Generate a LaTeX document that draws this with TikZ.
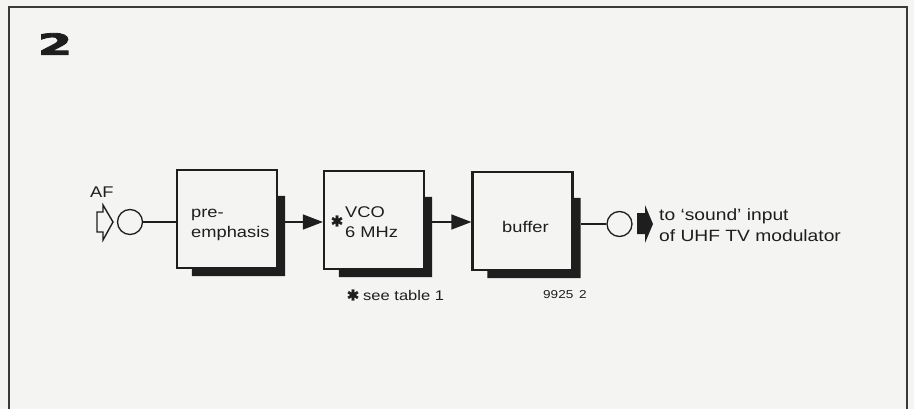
\documentclass[tikz,border=0pt]{standalone}
\usepackage{fontspec}
\setmainfont{Liberation Sans}[FakeStretch=1.18]
\newfontfamily\symfont{DejaVu Sans}[FakeBold=1.5]
\newfontfamily\numfont{DejaVu Sans Bold}[FakeBold=3]
\usetikzlibrary{arrows.meta,calc}
\definecolor{ink}{HTML}{1E1E1E}
\definecolor{paper}{HTML}{F4F4F2}
\definecolor{framec}{HTML}{3A3A3A}
\newcommand\dropshadow[1]{%
  \fill[ink] ($(#1.north east)+(0,27)$) -- ++(7,0) -- ($(#1.south east)+(7,7)$)
    -- ($(#1.south west)+(16,7)$) -- ($(#1.south west)+(16,0)$) -- (#1.south east) -- cycle;}
\begin{document}
\begin{tikzpicture}[x=1pt,y=-1pt,
  blk/.style={draw=ink, line width=2.2pt, minimum width=100pt, minimum height=98pt, inner sep=0pt},
  wire/.style={draw=ink, line width=1.3pt},
  arr/.style={wire, -{Triangle[length=20pt,width=15pt]}},
  port/.style={circle, draw=ink, line width=1.3pt, minimum size=25pt, inner sep=0pt},
  lbl/.style={text=ink, font=\fontsize{15.5}{20}\selectfont, inner sep=0pt},
  small/.style={text=ink, font=\fontsize{11.5}{14}\selectfont, inner sep=0pt},
  star/.style={text=ink, font=\symfont\fontsize{15}{16}\selectfont, inner sep=0pt}
]
% paper and frame
\fill[paper] (0,0) rectangle (914,409);
\draw[framec, line width=2pt] (9,409) -- (9,7) -- (907,7) -- (907,409);

% figure number
\node[text=ink, inner sep=0pt, font=\numfont\fontsize{29}{30}\selectfont] (fig) at (55,44) {\scalebox{1.7}[1]{2}};

% blocks
\node[blk] (pre) at (227,219) {};
\node[blk] (vco) at (374,220) {};
\node[blk] (buf) at (522.5,221) {};
\dropshadow{pre}
\dropshadow{vco}
\dropshadow{buf}

% block texts
\node[lbl, anchor=base west] (preA) at (191,217) {pre-};
\node[lbl, anchor=base west] (preB) at (191,237) {emphasis};
\node[lbl, anchor=base west] (vcoA) at (345,217) {VCO};
\node[lbl, anchor=base west] (vcoB) at (345,237) {6 MHz};
\node[star] (vcostar) at (337,221) {✱};
\node[lbl, anchor=base west] (bufT) at (502,232) {buffer};

% ports
\node[port] (in) at (130,222) {};
\node[port] (out) at (619.5,224) {};

% input arrow symbol (hollow)
\draw[ink, line width=1.4pt, line join=miter] (97,212) -- (103,212) -- (103,205) -- (113,222)
  -- (103,240) -- (103,232) -- (97,232) -- cycle;
\node[lbl, anchor=base west] (af) at (90,197) {AF};

% output arrow symbol (filled)
\fill[ink] (637,213) -- (645,213) -- (645,205) -- (653,224) -- (645,243) -- (645,234) -- (637,234) -- cycle;
\node[lbl, anchor=base west, font=\fontsize{16.3}{20}\selectfont] (outA) at (659,220) {to ‘sound’ input};
\node[lbl, anchor=base west, font=\fontsize{16.3}{20}\selectfont] (outB) at (659,241) {of UHF TV modulator};

% connectors
\draw[wire] (in) -- (in -| pre.west);
\draw[arr] ($(pre.east)+(7,3)$) -- ($(vco.west)+(0,2)$);
\draw[arr] ($(vco.east)+(7,2)$) -- ($(buf.west)+(0,1)$);
\draw[wire] (out) -- ($(out -| buf.east)+(7,0)$);

% notes
\node[star] (notestar) at (353,295) {✱};
\node[lbl, anchor=base west, font=\fontsize{14}{18}\selectfont] (note) at (363,300) {see table 1};
\node[small, anchor=base west] (code) at (543,298) {9925\, 2};
\end{tikzpicture}
\end{document}
